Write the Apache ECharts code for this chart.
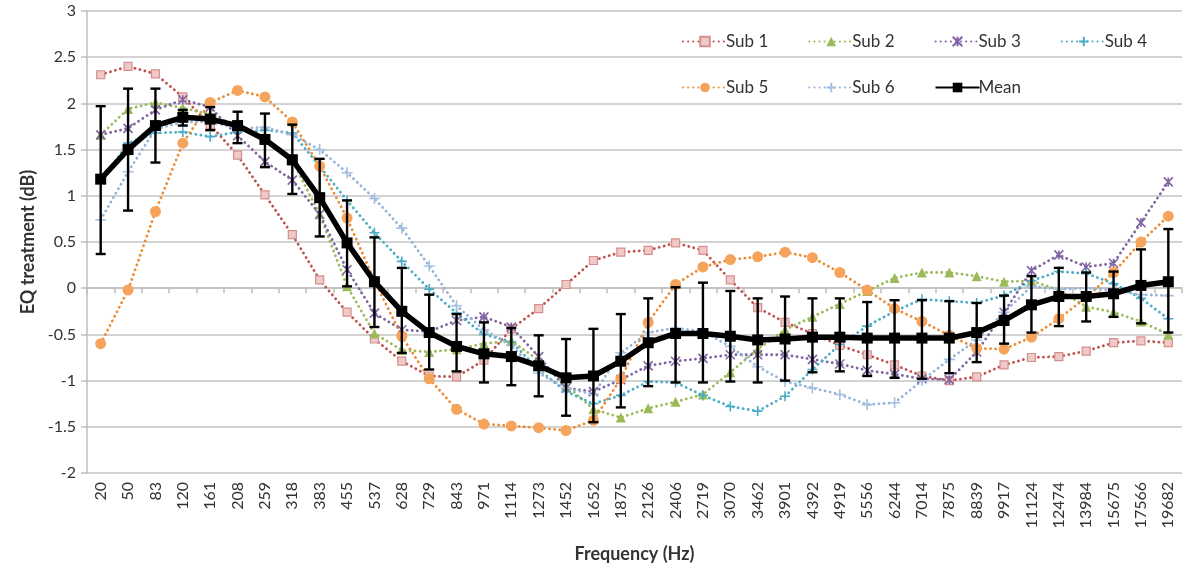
<!DOCTYPE html>
<html>
<head>
<meta charset="utf-8">
<script src="https://cdn.jsdelivr.net/npm/echarts@6/dist/echarts.min.js"></script>
<style>
html,body{margin:0;padding:0;background:#fff;}
#chart{width:1183px;height:572px;}
</style>
</head>
<body>
<div id="chart"></div>
<script>
const categories = ['20','50','83','120','161','208','259','318','383','455','537','628','729','843','971','1114','1273','1452','1652','1875','2126','2406','2719','3070','3462','3901','4392','4919','5556','6244','7014','7875','8839','9917','11124','12474','13984','15675','17566','19682'];

const sub1 = [2.31, 2.40, 2.32, 2.07, 1.77, 1.44, 1.01, 0.58, 0.09, -0.26, -0.55, -0.79, -0.95, -0.96, -0.78, -0.44, -0.22, 0.04, 0.30, 0.39, 0.41, 0.49, 0.41, 0.09, -0.21, -0.37, -0.49, -0.62, -0.72, -0.83, -0.95, -1.00, -0.96, -0.83, -0.75, -0.74, -0.68, -0.59, -0.57, -0.59];
const sub2 = [1.66, 1.94, 2.01, 1.95, 1.88, 1.76, 1.62, 1.38, 0.80, 0.02, -0.49, -0.67, -0.69, -0.66, -0.60, -0.57, -0.78, -1.05, -1.31, -1.40, -1.30, -1.23, -1.15, -0.91, -0.66, -0.45, -0.31, -0.17, -0.03, 0.11, 0.17, 0.17, 0.13, 0.07, 0.08, -0.02, -0.20, -0.26, -0.36, -0.50];
const sub3 = [1.66, 1.73, 1.93, 2.04, 1.96, 1.65, 1.37, 1.17, 0.80, 0.20, -0.27, -0.45, -0.47, -0.35, -0.31, -0.42, -0.74, -1.08, -1.12, -0.99, -0.84, -0.79, -0.76, -0.72, -0.72, -0.72, -0.77, -0.82, -0.89, -0.93, -0.98, -0.99, -0.69, -0.26, 0.19, 0.36, 0.23, 0.27, 0.71, 1.15];
const sub4 = [1.15, 1.57, 1.68, 1.69, 1.64, 1.69, 1.71, 1.68, 1.32, 0.95, 0.60, 0.29, -0.01, -0.27, -0.50, -0.58, -0.88, -1.12, -1.25, -1.16, -1.01, -1.02, -1.16, -1.28, -1.33, -1.17, -0.88, -0.61, -0.41, -0.25, -0.12, -0.14, -0.16, -0.08, 0.08, 0.18, 0.16, 0.05, -0.11, -0.33];
const sub5 = [-0.60, -0.02, 0.83, 1.57, 2.01, 2.14, 2.07, 1.80, 1.32, 0.76, 0.08, -0.52, -0.98, -1.31, -1.47, -1.49, -1.51, -1.54, -1.43, -0.98, -0.37, 0.04, 0.23, 0.31, 0.34, 0.39, 0.33, 0.17, -0.02, -0.22, -0.36, -0.51, -0.65, -0.66, -0.53, -0.33, -0.10, 0.17, 0.50, 0.78];
const sub6 = [0.74, 1.26, 1.72, 1.80, 1.80, 1.73, 1.74, 1.66, 1.50, 1.25, 0.97, 0.65, 0.24, -0.19, -0.45, -0.62, -0.92, -1.08, -1.15, -0.70, -0.48, -0.43, -0.47, -0.63, -0.85, -1.01, -1.08, -1.15, -1.26, -1.24, -1.00, -0.77, -0.56, -0.26, 0.02, -0.01, 0.00, -0.02, -0.07, -0.08];
const meanVals = [1.18, 1.50, 1.76, 1.85, 1.83, 1.76, 1.61, 1.39, 0.98, 0.49, 0.07, -0.25, -0.48, -0.63, -0.71, -0.74, -0.84, -0.97, -0.95, -0.79, -0.59, -0.49, -0.49, -0.52, -0.56, -0.55, -0.53, -0.53, -0.54, -0.54, -0.54, -0.54, -0.48, -0.35, -0.18, -0.09, -0.09, -0.06, 0.03, 0.07];
const errUpper = [1.97, 2.16, 2.16, 1.93, 1.96, 1.91, 1.89, 1.77, 1.40, 0.95, 0.55, 0.22, -0.07, -0.28, -0.37, -0.43, -0.51, -0.55, -0.44, -0.28, -0.11, 0.01, 0.06, -0.03, -0.11, -0.09, -0.11, -0.11, -0.15, -0.13, -0.13, -0.14, -0.16, -0.08, 0.13, 0.22, 0.17, 0.18, 0.42, 0.64];
const errLower = [0.37, 0.84, 1.36, 1.76, 1.71, 1.57, 1.31, 1.02, 0.56, 0.02, -0.42, -0.70, -0.88, -0.90, -1.02, -1.05, -1.17, -1.38, -1.45, -1.29, -1.06, -1.02, -1.02, -1.01, -1.02, -1.00, -0.91, -0.90, -0.95, -0.97, -0.98, -0.92, -0.80, -0.60, -0.48, -0.41, -0.36, -0.31, -0.38, -0.48];
const yTicks = {min: -2, max: 3, interval: 0.5};

const FONT = 'Lato';
const XSYM = 'path://M0,0L10,10M10,0L0,10M5,0L5,10';
const PSYM = 'path://M5,0L5,10M0,5L10,5';

function dotted(color) {
  return {color: color, width: 2.8, type: [0.1, 5.0], cap: 'round'};
}
function subSeries(name, data, lineColor, symbol, size, item) {
  return {
    name: name, type: 'line', data: data,
    symbol: symbol, symbolSize: size, showAllSymbol: true,
    lineStyle: dotted(lineColor),
    itemStyle: item,
    emphasis: {disabled: true},
    z: 2
  };
}

const errData = categories.map((c, i) => [i, errUpper[i], errLower[i]]);

const legendCommon = {
  left: 682, itemWidth: 44, itemHeight: 12, itemGap: 40, padding: 0,
  orient: 'horizontal', width: 501, selectedMode: false,
  textStyle: {fontFamily: FONT, fontSize: 17, color: '#333', padding: [0, 0, 0, -6]}
};

const chart = echarts.init(document.getElementById('chart'), null, {renderer: 'canvas'});
chart.setOption({
  animation: false,
  backgroundColor: '#fff',
  textStyle: {fontFamily: FONT},
  grid: {left: 87, right: 1, top: 11, bottom: 99, containLabel: false},
  legend: [
    Object.assign({}, legendCommon, {data: ['Sub 1', 'Sub 2', 'Sub 3', 'Sub 4'], top: 33}),
    Object.assign({}, legendCommon, {data: ['Sub 5', 'Sub 6', 'Mean'], top: 79})
  ],
  xAxis: {
    type: 'category', data: categories, boundaryGap: true,
    name: 'Frequency (Hz)', nameLocation: 'middle', nameGap: 72,
    nameTextStyle: {fontFamily: FONT, fontSize: 18, fontWeight: 'bold', color: '#333'},
    axisLine: {show: true, lineStyle: {color: '#bfbfbf', width: 1.5}},
    axisTick: {show: true, alignWithLabel: false, length: 5, lineStyle: {color: '#bfbfbf', width: 1.5}},
    axisLabel: {rotate: 90, fontFamily: FONT, fontSize: 16, color: '#333', margin: 9, interval: 0},
    splitLine: {show: false}
  },
  yAxis: {
    type: 'value', min: yTicks.min, max: yTicks.max, interval: yTicks.interval,
    name: 'EQ treatment (dB)', nameLocation: 'middle', nameGap: 50,
    nameTextStyle: {fontFamily: FONT, fontSize: 18, fontWeight: 'bold', color: '#333'},
    axisLine: {show: true, lineStyle: {color: '#bfbfbf', width: 1.5}},
    axisTick: {show: true, inside: false, length: 6, lineStyle: {color: '#bfbfbf', width: 1.5}},
    axisLabel: {fontFamily: FONT, fontSize: 16, color: '#333', margin: 11},
    splitLine: {show: true, lineStyle: {color: '#c4c4c4', width: 1.5}}
  },
  series: [
    subSeries('Sub 1', sub1, '#c0504d', 'rect', 8, {color: '#efc9c8', borderColor: '#d68f8d', borderWidth: 1.2}),
    subSeries('Sub 2', sub2, '#9bbb59', 'triangle', 10, {color: '#9bbb59'}),
    subSeries('Sub 3', sub3, '#8064a2', XSYM, 9, {color: '#8064a2', borderColor: '#8064a2', borderWidth: 1.6}),
    subSeries('Sub 4', sub4, '#4bacc6', PSYM, 10, {color: '#4bacc6', borderColor: '#4bacc6', borderWidth: 1.6}),
    subSeries('Sub 5', sub5, '#ec8b30', 'circle', 11, {color: '#f6a45c'}),
    subSeries('Sub 6', sub6, '#95b3d7', PSYM, 11, {color: '#a5c0e0', borderColor: '#a5c0e0', borderWidth: 1.6}),
    {
      name: 'errorbars', type: 'custom', data: errData, z: 5,
      encode: {x: 0, y: [1, 2]},
      renderItem: function (params, api) {
        const x = api.value(0);
        const p1 = api.coord([x, api.value(1)]);
        const p2 = api.coord([x, api.value(2)]);
        const w = 5;
        const st = {stroke: '#000', lineWidth: 2.4};
        return {
          type: 'group',
          children: [
            {type: 'line', shape: {x1: p1[0], y1: p1[1], x2: p2[0], y2: p2[1]}, style: st},
            {type: 'line', shape: {x1: p1[0] - w, y1: p1[1], x2: p1[0] + w, y2: p1[1]}, style: st},
            {type: 'line', shape: {x1: p2[0] - w, y1: p2[1], x2: p2[0] + w, y2: p2[1]}, style: st}
          ]
        };
      },
      silent: true
    },
    {
      name: 'Mean', type: 'line', data: meanVals, z: 6,
      symbol: 'rect', symbolSize: 11, showAllSymbol: true,
      lineStyle: {color: '#000', width: 5.5},
      itemStyle: {color: '#000'},
      emphasis: {disabled: true}
    }
  ]
});
</script>
</body>
</html>
